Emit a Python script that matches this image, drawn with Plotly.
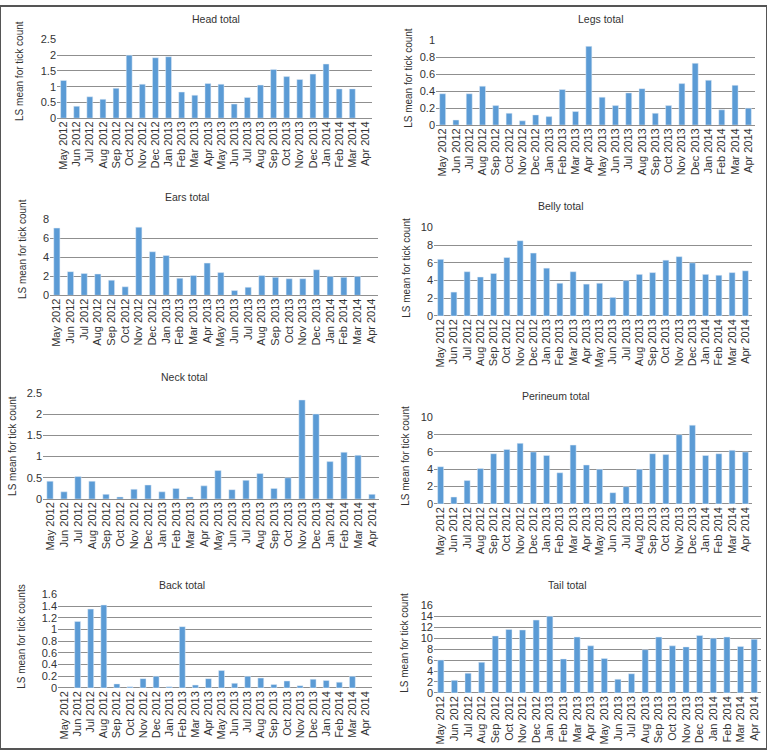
import plotly.graph_objects as go

# months on every category axis
months = ['May 2012', 'Jun 2012', 'Jul 2012', 'Aug 2012', 'Sep 2012', 'Oct 2012',
          'Nov 2012', 'Dec 2012', 'Jan 2013', 'Feb 2013', 'Mar 2013', 'Apr 2013',
          'May 2013', 'Jun 2013', 'Jul 2013', 'Aug 2013', 'Sep 2013', 'Oct 2013',
          'Nov 2013', 'Dec 2013', 'Jan 2014', 'Feb 2014', 'Mar 2014', 'Apr 2014']

head = [1.2, 0.38, 0.68, 0.6, 0.95, 2.0, 1.08, 1.92, 1.95, 0.83, 0.73, 1.1,
        1.08, 0.45, 0.66, 1.05, 1.55, 1.32, 1.23, 1.4, 1.72, 0.93, 0.93, None]
legs = [0.37, 0.06, 0.37, 0.46, 0.23, 0.14, 0.05, 0.12, 0.1, 0.42, 0.16, 0.93,
        0.33, 0.23, 0.38, 0.43, 0.14, 0.23, 0.49, 0.73, 0.53, 0.18, 0.47, 0.2]
ears = [7.1, 2.5, 2.3, 2.25, 1.6, 0.9, 7.2, 4.6, 4.2, 1.8, 2.1, 3.4,
        2.4, 0.5, 0.85, 2.1, 1.9, 1.75, 1.75, 2.7, 2.0, 1.9, 2.0, None]
belly = [6.4, 2.7, 5.0, 4.4, 4.8, 6.6, 8.5, 7.1, 5.4, 3.7, 5.0, 3.6,
         3.7, 2.1, 4.0, 4.7, 4.9, 6.3, 6.7, 6.0, 4.7, 4.6, 4.9, 5.1]
neck = [0.42, 0.17, 0.53, 0.42, 0.11, 0.05, 0.23, 0.33, 0.17, 0.25, 0.05, 0.31,
        0.67, 0.22, 0.44, 0.6, 0.25, 0.5, 2.33, 2.0, 0.88, 1.1, 1.03, 0.11]
perineum = [4.3, 0.8, 2.7, 4.1, 5.8, 6.3, 7.0, 6.0, 5.6, 3.6, 6.8, 4.5,
            4.0, 1.3, 2.0, 4.0, 5.8, 5.7, 8.0, 9.1, 5.6, 5.8, 6.2, 6.0]
back = [None, 1.14, 1.35, 1.42, 0.07, 0.02, 0.16, 0.2, 0.02, 1.05, 0.05, 0.16,
        0.3, 0.08, 0.2, 0.17, 0.06, 0.12, 0.04, 0.15, 0.13, 0.1, 0.2, None]
tail = [6.0, 2.3, 3.6, 5.6, 10.4, 11.6, 11.5, 13.3, 14.0, 6.2, 10.2, 8.6,
        6.3, 2.5, 3.5, 7.9, 10.2, 8.6, 8.4, 10.5, 10.0, 10.2, 8.5, 9.8]

W, H = 767, 755
FONT = 'Liberation Sans, Arial, sans-serif'
TXT = '#333333'

# title, values, y max, dtick, y title, plot box (px: left, top, right, bottom),
# title pos (px), y-title pos (px)
panels = [
    ('Head total', head, 2.5, 0.5, 'LS mean for tick count', (57, 34, 372, 114), (216, 13), (20, 66)),
    ('Legs total', legs, 1, 0.2, 'LS mean for tick count', (436, 35, 755, 121), (601, 13), (409, 73)),
    ('Ears total', ears, 8, 2, 'LS mean for tick count', (50, 217, 378, 294), (187, 194), (22, 247)),
    ('Belly total', belly, 10, 2, 'LS mean for tick count', (434, 225, 752, 315), (561, 203), (407, 266)),
    ('Neck total', neck, 2.5, 0.5, 'LS mean for tick count', (43, 393, 379, 501), (184, 377), (13, 447)),
    ('Perineum total', perineum, 10, 2, 'LS mean for tick count', (434, 418, 752, 506), (556, 396), (406, 457)),
    ('Back total', back, 1.6, 0.2, 'LS mean for tick counts', (58, 598, 372, 693), (182, 588), (22, 641)),
    ('Tail total', tail, 16, 2, 'LS mean for tick count', (434, 609, 761, 698), (567, 588), (405, 647)),
]

fig = go.Figure()
annotations = []
for i, (title, vals, ymax, dt, ytitle, box, tpos, ypos) in enumerate(panels):
    n = '' if i == 0 else str(i + 1)
    l, t, r, b = box
    fig.add_trace(go.Bar(x=months, y=vals, marker_color='#5B9BD5', showlegend=False,
                         xaxis='x' + n, yaxis='y' + n, hoverinfo='x+y'))
    fig.layout['xaxis' + n] = dict(
        domain=[l / W, r / W], anchor='y' + n, type='category',
        tickmode='array', tickvals=months, ticktext=months,
        tickangle=-90, tickfont=dict(size=11, color=TXT, family=FONT),
        showgrid=False, showline=False, ticks='', range=[-0.5, 23.5])
    fig.layout['yaxis' + n] = dict(
        domain=[1 - b / H, 1 - t / H], anchor='x' + n, range=[0, ymax], dtick=dt,
        tickfont=dict(size=11, color=TXT, family=FONT), gridcolor='#8f8f8f',
        gridwidth=1, zeroline=True, zerolinecolor='#8f8f8f', zerolinewidth=1,
        showline=False, ticks='')
    annotations.append(dict(text=title, x=tpos[0] / W, y=1 - tpos[1] / H, xref='paper',
                            yref='paper', showarrow=False, xanchor='center', yanchor='middle',
                            font=dict(size=10.5, color=TXT, family=FONT)))
    annotations.append(dict(text=ytitle, x=ypos[0] / W, y=1 - ypos[1] / H, xref='paper',
                            yref='paper', showarrow=False, xanchor='center', yanchor='middle',
                            textangle=-90, font=dict(size=10, color=TXT, family=FONT)))

fig.update_layout(
    width=W, height=H, margin=dict(l=0, r=0, t=0, b=0),
    paper_bgcolor='white', plot_bgcolor='white', bargap=0.55,
    annotations=annotations,
    shapes=[dict(type='rect', xref='paper', yref='paper', x0=0, y0=0, x1=1, y1=1,
                 line=dict(color='#555555', width=2))],
)

fig.write_html('out.html', config={'displayModeBar': False},
               post_script="document.body.style.margin='0';document.body.style.overflow='hidden';")
